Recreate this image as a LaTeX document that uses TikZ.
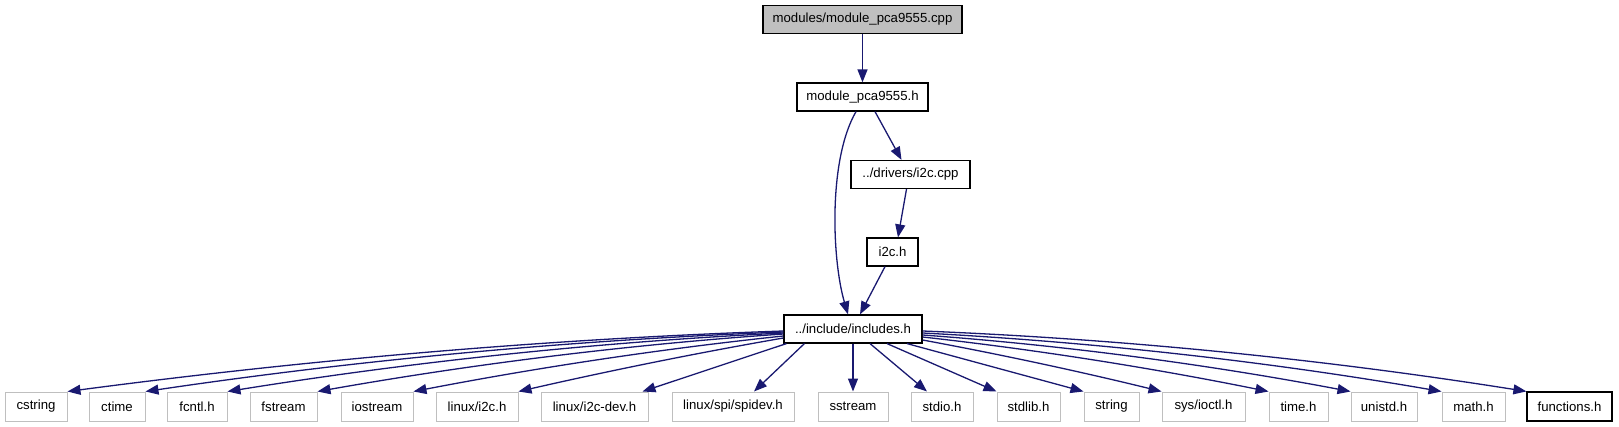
\documentclass[tikz,border=0pt]{standalone}
\usepackage{fontspec}
\setmainfont{Liberation Sans}
\usetikzlibrary{arrows.meta}
\definecolor{edgeblue}{HTML}{191970}
\definecolor{boxgray}{HTML}{BFBFBF}
\tikzset{
  file/.style={draw=black, line width=1.2pt, fill=white, inner sep=0pt, minimum height=28pt,
    font=\fontsize{13.2}{15.8}\selectfont},
  sysfile/.style={file, draw=boxgray, line width=1pt, minimum height=29pt},
  edge/.style={draw=edgeblue, line width=1.3pt, -{Triangle[length=13pt,width=10pt]}},
}
\begin{document}
\begin{tikzpicture}[x=1pt,y=-1pt]
\useasboundingbox (0,0) rectangle (1619,427);
% upper nodes
\node[file, fill=boxgray, minimum width=199pt] (top) at (862.5,19.5) {modules/module\_pca9555.cpp};
\node[file, minimum width=131pt] (pca) at (862.5,97) {module\_pca9555.h};
\node[file, minimum width=119pt] (drv) at (910.5,174.5) {../drivers/i2c.cpp};
\node[file, minimum width=51pt] (i2ch) at (892.5,252) {i2c.h};
\node[file, minimum width=138pt] (inc) at (853,329) {../include/includes.h};
% bottom row
\node[sysfile, minimum width=62pt] (cstring) at (36,406.5) {cstring};
\node[sysfile, minimum width=56pt] (ctime) at (117,406.5) {ctime};
\node[sysfile, minimum width=60pt] (fcntl) at (197,406.5) {fcntl.h};
\node[sysfile, minimum width=67pt] (fstream) at (283.5,406.5) {fstream};
\node[sysfile, minimum width=72pt] (iostream) at (377,406.5) {iostream};
\node[sysfile, minimum width=82pt] (li2c) at (477,406.5) {linux/i2c.h};
\node[sysfile, minimum width=107pt] (li2cdev) at (594.5,406.5) {linux/i2c-dev.h};
\node[sysfile, minimum width=122pt] (spidev) at (733,406.5) {linux/spi/spidev.h};
\node[sysfile, minimum width=70pt] (sstream) at (853,406.5) {sstream};
\node[sysfile, minimum width=62pt] (stdio) at (942,406.5) {stdio.h};
\node[sysfile, minimum width=63pt] (stdlib) at (1028.5,406.5) {stdlib.h};
\node[sysfile, minimum width=55pt] (string) at (1111.5,406.5) {string};
\node[sysfile, minimum width=83pt] (ioctl) at (1203.5,406.5) {sys/ioctl.h};
\node[sysfile, minimum width=59pt] (time) at (1298.5,406.5) {time.h};
\node[sysfile, minimum width=66pt] (unistd) at (1384,406.5) {unistd.h};
\node[sysfile, minimum width=63pt] (math) at (1473.5,406.5) {math.h};
\node[file, minimum width=85pt, minimum height=29pt] (functions) at (1569.5,406.5) {functions.h};
% upper edges
\draw[edge] (top.south) -- (pca.north);
\draw[edge] ([xshift=12.5pt]pca.south) -- ([xshift=-9pt]drv.north);
\draw[edge] ([xshift=-4pt]drv.south) -- ([xshift=5.5pt]i2ch.north);
\draw[edge] ([xshift=-7.5pt]i2ch.south) -- ([xshift=7pt]inc.north);
\draw[edge] ([xshift=-6.5pt]pca.south) .. controls (828,160) and (832,260) .. ([xshift=-5pt]inc.north);
% fan to the left
\draw[edge] ([yshift=-2pt]inc.west) .. controls (545,339) and (306,360) .. (cstring.north east);
\draw[edge] ([yshift=-3pt]inc.west) .. controls (571,340) and (358,360) .. (ctime.north east);
\draw[edge] ([yshift=-4pt]inc.west) .. controls (598,342) and (413,361.7) .. (fcntl.north east);
\draw[edge] ([yshift=-5pt]inc.west) .. controls (628,344.6) and (473,364) .. (fstream.north east);
\draw[edge] ([yshift=-7pt]inc.west) .. controls (660,349) and (537,367.7) .. (iostream.north east);
\draw[edge] ([yshift=-9pt]inc.west) .. controls (695,353.3) and (607,371.3) .. (li2c.north east);
\draw[edge] ([xshift=3pt]inc.south west) -- ([xshift=-6pt]li2cdev.north east);
\draw[edge] ([xshift=21pt]inc.south west) -- ([xshift=21pt]spidev.north);
\draw[edge] (inc.south) -- (sstream.north);
% fan to the right
\draw[edge] ([xshift=17pt]inc.south) -- ([xshift=-15pt]stdio.north);
\draw[edge] ([xshift=34pt]inc.south) -- (stdlib.north west);
\draw[edge] ([xshift=54pt]inc.south) -- (string.north west);
\draw[edge] ([yshift=-11pt]inc.east) .. controls (1002,354.7) and (1082,372) .. (ioctl.north west);
\draw[edge] ([yshift=-8pt]inc.east) .. controls (1038,349.8) and (1153,368.2) .. (time.north west);
\draw[edge] ([yshift=-6pt]inc.east) .. controls (1065,345.4) and (1208,364.5) .. (unistd.north west);
\draw[edge] ([yshift=-4pt]inc.east) .. controls (1095,342) and (1269,361.7) .. (math.north west);
\draw[edge] ([yshift=-2pt]inc.east) .. controls (1124,339) and (1325,359.5) .. (functions.north west);
\end{tikzpicture}
\end{document}
